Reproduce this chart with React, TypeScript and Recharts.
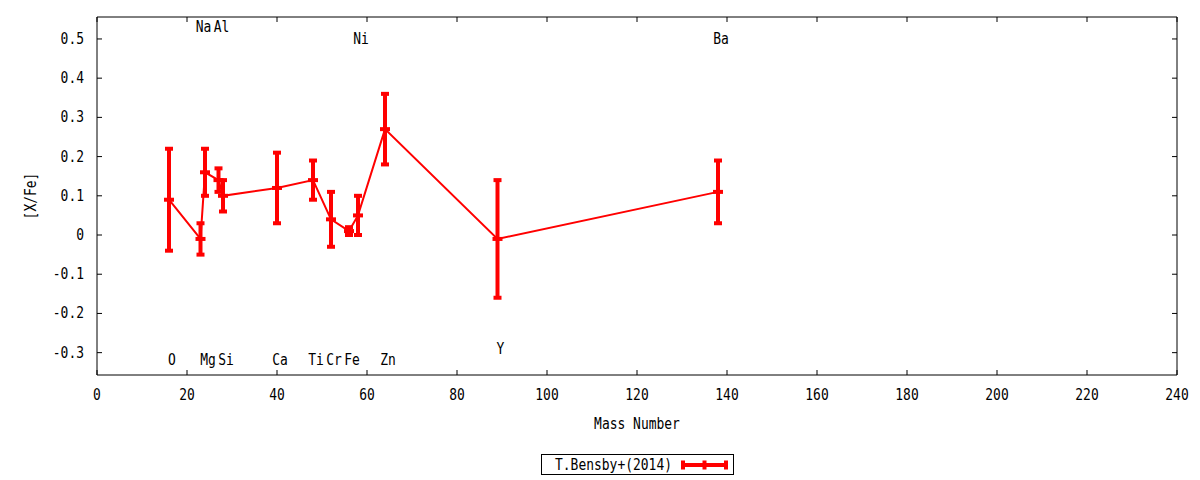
import {
  ScatterChart,
  Scatter,
  XAxis,
  YAxis,
  ErrorBar,
  Legend,
} from "recharts";

// element abundances, T.Bensby+(2014)
const elements = ["O", "Na", "Mg", "Al", "Si", "Ca", "Ti", "Cr", "Fe", "Ni", "Zn", "Y", "Ba"];
const massNumbers = [16, 23, 24, 27, 28, 40, 48, 52, 56, 58, 64, 89, 138];
const xFe = [0.09, -0.01, 0.16, 0.14, 0.1, 0.12, 0.14, 0.04, 0.01, 0.05, 0.27, -0.01, 0.11];
const xFeErr = [0.13, 0.04, 0.06, 0.03, 0.04, 0.09, 0.05, 0.07, 0.01, 0.05, 0.09, 0.15, 0.08];
// where the element names sit, in [X/Fe] units
const labelLevels = [-0.32, 0.53, -0.32, 0.53, -0.32, -0.32, -0.32, -0.32, -0.32, 0.5, -0.32, -0.29, 0.5];

const xTicks = [0, 20, 40, 60, 80, 100, 120, 140, 160, 180, 200, 220, 240];
const yTicks = [-0.3, -0.2, -0.1, 0, 0.1, 0.2, 0.3, 0.4, 0.5];
const seriesName = "T.Bensby+(2014)";

const FONT = '"DejaVu Sans Mono", monospace';
const RED = "#ff0000";
const CHAR_W = 7.8;

// layout
const W = 1200;
const H = 480;
const MARGIN = { top: 16, right: 22, bottom: 40, left: 0 };
const Y_AXIS_W = 97;
const X_AXIS_H = 65;
const PLOT_LEFT = MARGIN.left + Y_AXIS_W;
const PLOT_RIGHT = W - MARGIN.right - 1;
const PLOT_TOP = MARGIN.top + 1;
const PLOT_BOTTOM = H - MARGIN.bottom - X_AXIS_H;
const TICK_LEN = 5;

const points = elements.map((name, i) => ({
  name,
  mass: massNumbers[i],
  value: xFe[i],
  err: xFeErr[i],
}));

const labels = elements.map((name, i) => ({
  name,
  mass: massNumbers[i],
  value: labelLevels[i],
}));

// condensed mono text, gnuplot-like
const Txt = ({ x, y, anchor = "middle", transform, children }: any) => {
  const s = String(children);
  return (
    <text
      x={x}
      y={y}
      textAnchor={anchor}
      dominantBaseline="central"
      fontFamily={FONT}
      fontSize={15}
      fill="#000"
      textLength={s.length * CHAR_W}
      lengthAdjust="spacingAndGlyphs"
      transform={transform}
    >
      {s}
    </text>
  );
};

const BottomTick = ({ x, payload }: any) => (
  <g>
    <line x1={x} y1={PLOT_BOTTOM} x2={x} y2={PLOT_BOTTOM - TICK_LEN} stroke="#000" />
    <Txt x={x} y={PLOT_BOTTOM + 20}>{payload.value}</Txt>
  </g>
);

const TopTick = ({ x }: any) => (
  <line x1={x} y1={PLOT_TOP} x2={x} y2={PLOT_TOP + TICK_LEN} stroke="#000" />
);

const LeftTick = ({ y, payload }: any) => (
  <g>
    <line x1={PLOT_LEFT} y1={y} x2={PLOT_LEFT + TICK_LEN} y2={y} stroke="#000" />
    <Txt x={PLOT_LEFT - 13} y={y} anchor="end">{payload.value}</Txt>
  </g>
);

const RightTick = ({ y }: any) => (
  <line x1={PLOT_RIGHT} y1={y} x2={PLOT_RIGHT - TICK_LEN} y2={y} stroke="#000" />
);

const PointMark = ({ cx, cy }: any) => (
  <rect x={cx - 5} y={cy - 2} width={10} height={4} fill={RED} />
);

const ElementLabel = ({ cx, cy, payload }: any) => (
  <Txt x={cx + 3} y={cy}>{payload.name}</Txt>
);

const LegendBox = () => (
  <svg width={194} height={22}>
    <rect x={0.5} y={0.5} width={192} height={20} fill="#fff" stroke="#000" />
    <Txt x={14} y={11} anchor="start">{seriesName}</Txt>
    <line x1={142} y1={11} x2={185} y2={11} stroke={RED} strokeWidth={4} />
    <line x1={142} y1={6.5} x2={142} y2={15.5} stroke={RED} strokeWidth={4} />
    <line x1={185} y1={6.5} x2={185} y2={15.5} stroke={RED} strokeWidth={4} />
    <line x1={163.5} y1={6.5} x2={163.5} y2={15.5} stroke={RED} strokeWidth={4} />
  </svg>
);

export default function App() {
  return (
    <div style={{ width: W, height: H, background: "#fff" }}>
      <style>{`body{margin:0}`}</style>
      <ScatterChart width={W} height={H} margin={MARGIN}>
        <XAxis
          type="number"
          dataKey="mass"
          domain={[0, 240]}
          ticks={xTicks}
          allowDataOverflow
          height={X_AXIS_H}
          tickLine={false}
          axisLine={{ stroke: "#000" }}
          tick={<BottomTick />}
          label={{
            content: ({ viewBox }: any) => (
              <Txt x={viewBox.x + viewBox.width / 2} y={PLOT_BOTTOM + 49}>
                Mass Number
              </Txt>
            ),
          }}
        />
        <XAxis
          xAxisId="top"
          orientation="top"
          type="number"
          dataKey="mass"
          domain={[0, 240]}
          ticks={xTicks}
          allowDataOverflow
          height={1}
          tickLine={false}
          axisLine={{ stroke: "#000" }}
          tick={<TopTick />}
        />
        <YAxis
          type="number"
          dataKey="value"
          domain={[-0.357, 0.556]}
          ticks={yTicks}
          allowDataOverflow
          width={Y_AXIS_W}
          tickLine={false}
          axisLine={{ stroke: "#000" }}
          tick={<LeftTick />}
          label={{
            content: ({ viewBox }: any) => {
              const cy = viewBox.y + viewBox.height / 2;
              return (
                <Txt x={31} y={cy} transform={`rotate(-90, 31, ${cy})`}>
                  [X/Fe]
                </Txt>
              );
            },
          }}
        />
        <YAxis
          yAxisId="right"
          orientation="right"
          type="number"
          dataKey="value"
          domain={[-0.357, 0.556]}
          ticks={yTicks}
          allowDataOverflow
          width={1}
          tickLine={false}
          axisLine={{ stroke: "#000" }}
          tick={<RightTick />}
        />
        <Scatter
          name={seriesName}
          data={points}
          line={{ stroke: RED, strokeWidth: 2 }}
          lineType="joint"
          shape={<PointMark />}
          fill={RED}
          isAnimationActive={false}
        >
          <ErrorBar dataKey="err" direction="y" width={4} strokeWidth={4} stroke={RED} isAnimationActive={false} />
        </Scatter>
        <Scatter
          data={labels}
          shape={<ElementLabel />}
          legendType="none"
          isAnimationActive={false}
        />
        <Legend
          layout="horizontal"
          verticalAlign="middle"
          align="center"
          wrapperStyle={{ left: 541, top: 454, width: 194, height: 22 }}
          content={<LegendBox />}
        />
      </ScatterChart>
    </div>
  );
}
